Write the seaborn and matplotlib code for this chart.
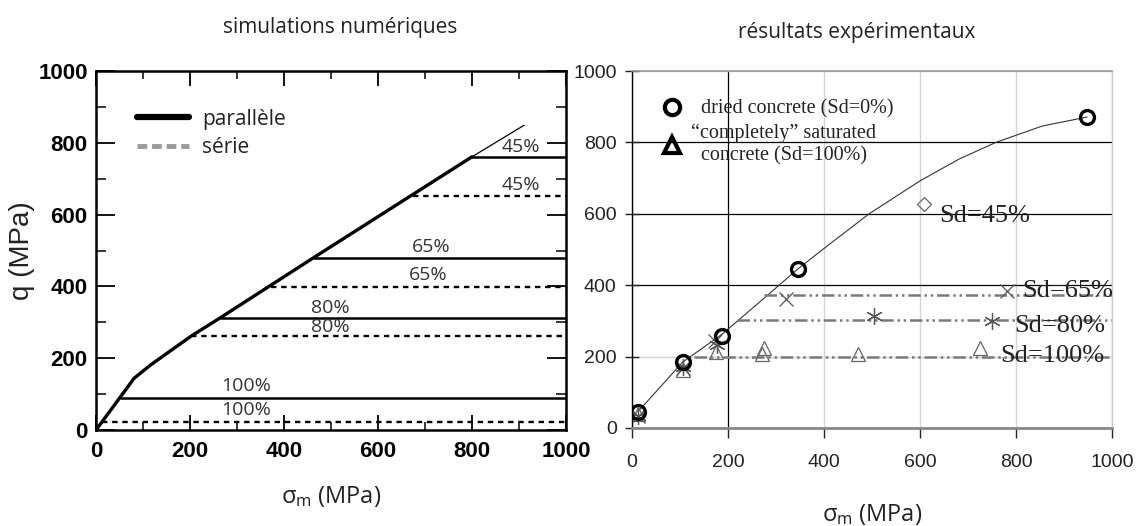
import matplotlib
matplotlib.use("Agg")
import matplotlib.pyplot as plt
import numpy as np
import pandas as pd
import seaborn as sns
from matplotlib.lines import Line2D
from matplotlib.ticker import MultipleLocator

# ---------------- data : left panel (simulations numériques) ----------------
env_x = [0, 53, 81, 116, 203, 265, 463, 800]
env_y = [0, 94, 144, 181, 262, 313, 480, 761]
ext_x = [800, 911]
ext_y = [761, 849]
sat_labels = ["45%", "65%", "80%", "100%"]
par_level = [761, 480, 313, 90]
par_start = [800, 463, 265, 53]
ser_level = [651, 399, 262, 21]
ser_start = [674, 372, 203, 12]
x_end = 1000
par_label_x = [903, 714, 498, 320]
par_label_y = [789, 510, 339, 122]
ser_label_x = [903, 706, 498, 320]
ser_label_y = [682, 431, 288, 56]

# ---------------- data : right panel (résultats expérimentaux) ----------------
dried_x = [12, 106, 187, 346, 947]
dried_y = [45, 186, 259, 445, 871]
fit_x = [12, 106, 187, 260, 346, 403, 494, 601, 681, 758, 855, 948]
fit_y = [45, 185, 262, 346, 446, 506, 600, 693, 753, 800, 846, 871]
sd100_x = [12, 106, 174, 270, 274, 471, 726]
sd100_y = [38, 162, 212, 206, 224, 208, 224]
sd80_x = [12, 106, 178, 505, 751]
sd80_y = [35, 172, 232, 315, 301]
sd65_x = [12, 106, 172, 320, 782]
sd65_y = [35, 168, 243, 362, 385]
sd45_x = [608]
sd45_y = [628]
plateau_names = ["Sd=65%", "Sd=80%", "Sd=100%"]
plateau_level = [373, 303, 200]
plateau_start = [276, 218, 130]
plateau_label_x = [812, 797, 767]
plateau_label_y = [385, 287, 203]

ticks = [0, 200, 400, 600, 800, 1000]

# ---------------- style ----------------
sns.set_theme(style="white")
plt.rcParams["font.family"] = ["Open Sans", "DejaVu Sans"]
plt.rcParams["mathtext.fontset"] = "custom"
plt.rcParams["mathtext.rm"] = "Open Sans"
plt.rcParams["mathtext.it"] = "Open Sans"
plt.rcParams["mathtext.bf"] = "Open Sans:bold"

fig = plt.figure(figsize=(11.36, 5.26), dpi=100)
axL = fig.add_axes([96 / 1136, 1 - 430 / 526, 470 / 1136, 359 / 526])
axR = fig.add_axes([632 / 1136, 1 - 428 / 526, 480 / 1136, 357 / 526])

narrow = ["Liberation Sans Narrow", "Liberation Sans", "DejaVu Sans"]
serif = ["Liberation Serif", "DejaVu Serif"]

# ================= LEFT PANEL =================
sns.lineplot(x=env_x, y=env_y, ax=axL, color="black", lw=2.4,
             estimator=None, sort=False)
sns.lineplot(x=ext_x, y=ext_y, ax=axL, color="black", lw=0.9,
             estimator=None, sort=False)

rows = []
for lab, lvl, x0 in zip(sat_labels, par_level, par_start):
    rows += [dict(x=x0, y=lvl, g=lab), dict(x=x_end, y=lvl, g=lab)]
par_df = pd.DataFrame(rows)
sns.lineplot(data=par_df, x="x", y="y", units="g", estimator=None, sort=False,
             color="black", lw=1.8, ax=axL)

rows = []
for lab, lvl, x0 in zip(sat_labels, ser_level, ser_start):
    rows += [dict(x=x0, y=lvl, g=lab), dict(x=x_end, y=lvl, g=lab)]
ser_df = pd.DataFrame(rows)
sns.lineplot(data=ser_df, x="x", y="y", units="g", estimator=None, sort=False,
             color="black", lw=1.7, linestyle=(0, (2.3, 2.0)), ax=axL)

for lab, lx, ly in zip(sat_labels, par_label_x, par_label_y):
    axL.text(lx, ly, lab, ha="center", va="center", fontsize=14, color="#333")
for lab, lx, ly in zip(sat_labels, ser_label_x, ser_label_y):
    axL.text(lx, ly, lab, ha="center", va="center", fontsize=14, color="#333")

axL.set_xlim(0, 1000)
axL.set_ylim(0, 1000)
axL.xaxis.set_major_locator(MultipleLocator(200))
axL.xaxis.set_minor_locator(MultipleLocator(100))
axL.yaxis.set_major_locator(MultipleLocator(200))
axL.yaxis.set_minor_locator(MultipleLocator(100))
axL.tick_params(axis="x", which="major", direction="in", length=11, width=1.3,
                top=True, bottom=True, pad=8, colors="black")
axL.tick_params(axis="x", which="minor", direction="in", length=6, width=1.3,
                top=True, bottom=True)
axL.tick_params(axis="y", which="major", direction="in", length=14, width=1.3,
                left=True, right=True, pad=6, colors="black")
axL.tick_params(axis="y", which="minor", direction="in", length=7, width=1.3,
                left=True, right=True)
for lab in axL.get_xticklabels() + axL.get_yticklabels():
    lab.set_fontfamily(narrow)
    lab.set_fontweight("bold")
    lab.set_fontsize(16)
for sp in axL.spines.values():
    sp.set_color("black")
    sp.set_linewidth(1.8)
axL.set_xlabel(r"$\sigma_\mathrm{m}$ (MPa)", fontsize=17, labelpad=16, color="#222")
axL.set_ylabel("q (MPa)", fontsize=20, labelpad=2, color="#222",
               fontfamily=["Liberation Sans", "DejaVu Sans"])
axL.set_title("simulations numériques", fontsize=15, x=0.519, pad=27, color="#222")

hL = [Line2D([], [], color="black", lw=4.5),
      Line2D([], [], color="#9a9a9a", lw=3.5, linestyle=(0, (2, 1)))]
axL.legend(hL, ["parallèle", "série"], loc="upper left",
           bbox_to_anchor=(0.088, 0.895), frameon=False, fontsize=15,
           handlelength=2.5, handletextpad=0.6, borderpad=0, borderaxespad=0,
           labelspacing=0.35, labelcolor="#222")

# ================= RIGHT PANEL =================
axR.set_xlim(0, 1000)
axR.set_ylim(0, 1000)
axR.set_xticks(ticks)
axR.set_yticks(ticks)
axR.set_axisbelow(True)
axR.grid(True, color="#d4d4d4", lw=1)
for gl, v in zip(axR.get_ygridlines(), axR.get_yticks()):
    if v in (400, 600, 800):
        gl.set_color("black")
        gl.set_linewidth(0.9)
for gl, v in zip(axR.get_xgridlines(), axR.get_xticks()):
    if v == 200:
        gl.set_color("black")
        gl.set_linewidth(0.9)

sns.lineplot(x=fit_x, y=fit_y, ax=axR, color="#333", lw=0.8,
             estimator=None, sort=False)

rows = []
for name, lvl, x0 in zip(plateau_names, plateau_level, plateau_start):
    rows += [dict(x=x0, y=lvl, g=name), dict(x=x_end, y=lvl, g=name)]
plat_df = pd.DataFrame(rows)
sns.lineplot(data=plat_df, x="x", y="y", units="g", estimator=None, sort=False,
             color="#7a7a7a", lw=1.8, linestyle=(0, (5, 1.5, 1, 1.5, 1, 1.5)),
             ax=axR)

mk = dict(estimator=None, sort=False, linestyle="", ax=axR)
sns.lineplot(x=sd100_x, y=sd100_y, marker="^", markersize=10, markerfacecolor="none",
             markeredgecolor="#666", markeredgewidth=0.9, color="#666", **mk)
sns.lineplot(x=sd65_x, y=sd65_y, marker="x", markersize=10, markeredgecolor="#555",
             markeredgewidth=0.9, color="#555", **mk)
sns.lineplot(x=sd80_x, y=sd80_y, marker=(6, 2, 0), markersize=12, markeredgecolor="#555",
             markeredgewidth=0.9, color="#555", **mk)
sns.lineplot(x=sd45_x, y=sd45_y, marker="D", markersize=7, markerfacecolor="none",
             markeredgecolor="#666", markeredgewidth=0.9, color="#666", **mk)
sns.lineplot(x=dried_x, y=dried_y, marker="o", markersize=10, markerfacecolor="none",
             markeredgecolor="black", markeredgewidth=2.4, color="black", **mk)

axR.text(640, 595, "Sd=45%", ha="left", va="center", fontsize=19,
         fontfamily=serif, color="#222")
for name, lx, ly in zip(plateau_names, plateau_label_x, plateau_label_y):
    axR.text(lx, ly, name, ha="left", va="center", fontsize=19,
             fontfamily=serif, color="#222")

axR.tick_params(axis="x", which="major", direction="out", length=7, width=1,
                bottom=True, top=False, pad=12, colors="#222")
axR.tick_params(axis="y", which="major", direction="inout", length=10, width=1,
                left=True, right=False, pad=6, colors="#222")
for lab in axR.get_xticklabels() + axR.get_yticklabels():
    lab.set_fontfamily(narrow)
    lab.set_fontsize(14)
axR.spines["left"].set_color("black")
axR.spines["left"].set_linewidth(1)
axR.spines["bottom"].set_color("#888")
axR.spines["bottom"].set_linewidth(2)
axR.spines["top"].set_color("#999")
axR.spines["top"].set_linewidth(1.2)
axR.spines["right"].set_color("#ccc")
axR.spines["right"].set_linewidth(1)
axR.set_xlabel(r"$\sigma_\mathrm{m}$ (MPa)", fontsize=17, labelpad=22, color="#222")
axR.set_ylabel("")
axR.set_title("résultats expérimentaux", fontsize=15, x=0.469, pad=24, color="#222")

hR = [Line2D([], [], marker="o", linestyle="", markersize=11, markerfacecolor="none",
             markeredgecolor="black", markeredgewidth=3),
      Line2D([], [], marker="^", linestyle="", markersize=11, markerfacecolor="none",
             markeredgecolor="black", markeredgewidth=3)]
axR.legend(hR, ["  dried concrete (Sd=0%)", "\u201ccompletely\u201d saturated\n  concrete (Sd=100%)"],
           loc="upper left", bbox_to_anchor=(0.0625, 0.92), frameon=False,
           prop={"family": serif, "size": 14.5}, handlelength=1.0, handletextpad=0.45,
           borderpad=0, borderaxespad=0, labelspacing=0.25, labelcolor="#222")

fig.savefig("out.png", dpi=100)
